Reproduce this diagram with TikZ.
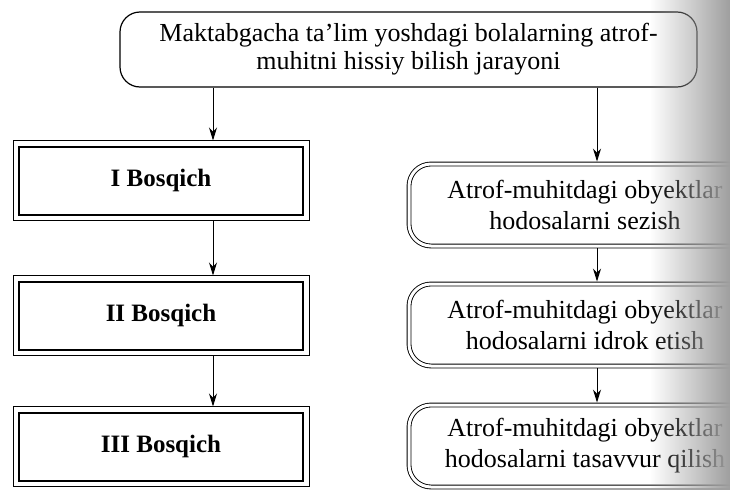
\documentclass[tikz,border=0pt]{standalone}
\usepackage{fontspec}
\setmainfont{Liberation Serif}
\usetikzlibrary{arrows.meta,fadings}

\begin{document}
\begin{tikzpicture}[x=1pt,y=-1pt,
	every node/.style={inner sep=0},
	topbox/.style={draw,line width=1.2pt,rounded corners=20pt,
		minimum width=577pt,minimum height=75pt,align=center,
		font=\fontsize{26}{28}\selectfont},
	stagebox/.style={draw,line width=2pt,minimum width=284pt,
		minimum height=68pt,font=\fontsize{25}{28}\selectfont\bfseries},
	outerline/.style={line width=0.9pt},
	stepbox/.style={draw,double,double distance=3pt,line width=0.9pt,
		rounded corners=22pt,minimum width=352pt,minimum height=82pt,
		align=center,font=\fontsize{26}{31}\selectfont},
	arr/.style={-{Stealth[length=13pt,width=8pt]},line width=1pt}]
\clip (0,0) rectangle (730,490);
\fill[white] (0,0) rectangle (730,490);

% top
\node[topbox] (top) at (408.5,49.5)
	{Maktabgacha ta’lim yoshdagi bolalarning atrof-\\
	muhitni hissiy bilish jarayoni};

% left column
\node[stagebox] (s1) at (161,180.5) {I Bosqich};
\node[stagebox] (s2) at (161,315.5) {II Bosqich};
\node[stagebox] (s3) at (161,446.5) {III Bosqich};
\foreach \n in {s1,s2,s3}
	\draw[outerline] ([shift={(-5pt,5pt)}]\n.north west)
		rectangle ([shift={(5pt,-5pt)}]\n.south east);

% right column
\node[stepbox] (r1) at (585,205) {Atrof-muhitdagi obyektlar\\ hodosalarni sezish};
\node[stepbox] (r2) at (585,325) {Atrof-muhitdagi obyektlar\\ hodosalarni idrok etish};
\node[stepbox] (r3) at (585,446) {Atrof-muhitdagi obyektlar\\ hodosalarni tasavvur qilish};

% arrows
\coordinate (lx) at (213,0);
\coordinate (rx) at (597,0);
\draw[arr] (top.south -| lx) -- ([yshift=5pt]s1.north -| lx);
\draw[arr] ([yshift=-5pt]s1.south -| lx) -- ([yshift=5pt]s2.north -| lx);
\draw[arr] ([yshift=-5pt]s2.south -| lx) -- ([yshift=5pt]s3.north -| lx);
\draw[arr] (top.south -| rx) -- ([yshift=2pt]r1.north -| rx);
\draw[arr] ([yshift=-2pt]r1.south -| rx) -- ([yshift=2pt]r2.north -| rx);
\draw[arr] ([yshift=-2pt]r2.south -| rx) -- ([yshift=2pt]r3.north -| rx);

% page shadow at the binding
\fill[gray!75,path fading=west] (650,0) rectangle (730,490);
\end{tikzpicture}
\end{document}
